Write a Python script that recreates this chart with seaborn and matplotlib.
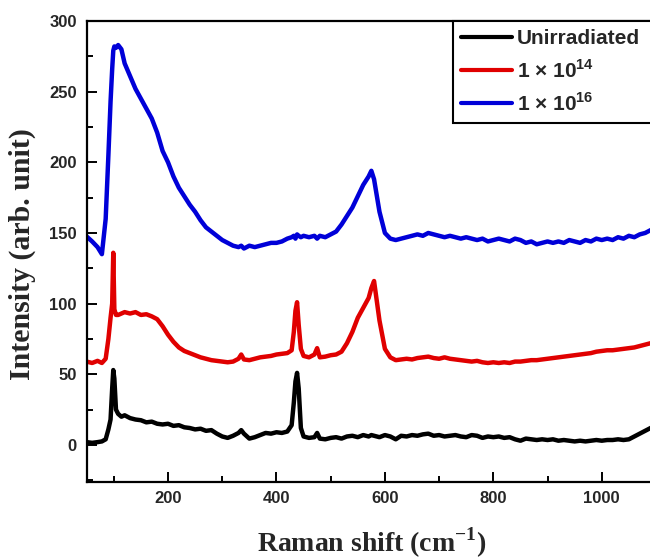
import numpy as np
import pandas as pd
import matplotlib
matplotlib.use("Agg")
import matplotlib.pyplot as plt
from matplotlib.ticker import MultipleLocator
import seaborn as sns

# ---------------- data ----------------
shift = [
    50, 60, 70, 78, 85, 90, 94, 97, 99, 101,
    104, 108, 114, 120, 130, 140, 150, 160, 170, 180,
    190, 200, 210, 220, 230, 240, 250, 260, 270, 280,
    290, 300, 310, 320, 330, 335, 340, 350, 360, 370,
    380, 390, 400, 410, 420, 428, 432, 435, 438, 441,
    445, 450, 460, 470, 475, 480, 490, 500, 510, 520,
    530, 540, 550, 560, 570, 575, 580, 590, 600, 610,
    620, 630, 640, 650, 660, 670, 680, 690, 700, 710,
    720, 730, 740, 750, 760, 770, 780, 790, 800, 810,
    820, 830, 840, 850, 860, 870, 880, 890, 900, 910,
    920, 930, 940, 950, 960, 970, 980, 990, 1000, 1010,
    1020, 1030, 1040, 1050, 1060, 1070, 1080, 1090, 1100,
]

unirradiated = [
    2, 1.5, 2, 2.5, 4, 11, 18, 40, 53, 47,
    25, 22, 20, 21, 19, 18, 17.5, 16, 16.5, 15,
    14.5, 15, 13.5, 14, 12.5, 12, 11, 11.5, 10, 10.5,
    8, 6, 5, 6.5, 8.5, 10.5, 8, 4.5, 5.5, 7,
    8.5, 8, 9, 8.5, 9.5, 14, 30, 45, 51, 40,
    12, 6, 5, 5.5, 8.5, 4.5, 4, 5, 5.5, 4.5,
    6, 6.5, 5.5, 7, 6, 7, 6.5, 5.5, 7, 6,
    4, 6.5, 6, 7, 6.5, 7.5, 8, 6.5, 7, 6,
    6.5, 7, 6, 5.5, 7, 6.5, 5, 6, 5.5, 6,
    5, 5.5, 4, 3, 4.5, 4, 3.5, 4, 3.5, 4,
    3, 3.5, 3, 2.5, 3, 2.5, 3, 3.5, 3, 3.5,
    3.5, 4, 3.5, 4, 6, 8, 10, 12, 14,
]

dose_1e14 = [
    59, 58, 59.5, 58, 61, 75, 90, 100, 136, 96,
    92, 92, 93, 94, 93, 94, 92, 92.5, 91, 89,
    84, 78, 73, 69, 66.5, 65, 63.5, 62, 61, 60,
    59.5, 59, 58.5, 59, 61, 64, 60.5, 60, 61, 62,
    62.5, 63, 64, 64.5, 65, 67, 80, 95, 101, 85,
    68, 63, 62, 64, 68.5, 62, 62.5, 63.5, 64, 66,
    72, 80, 90, 97, 104, 111, 116, 88, 68, 62,
    60, 60.5, 61, 60.5, 61.5, 62, 62.5, 61.5, 61, 62,
    61, 60.5, 60, 59.5, 59, 59.5, 58.5, 58, 58.5, 58,
    58.5, 58, 59, 59, 59.5, 60, 60, 60.5, 61, 61.5,
    62, 62.5, 63, 63.5, 64, 64.5, 65, 66, 66.5, 67,
    67, 67.5, 68, 68.5, 69, 70, 71, 72, 73,
]

dose_1e16 = [
    147.5, 144, 140, 135, 160, 205, 243, 266, 279, 282,
    281, 283, 280, 270, 261, 252, 245, 238, 231, 221,
    208, 200, 190, 182, 176, 170, 165, 159, 154, 151,
    148, 145, 143, 141, 140, 141, 139, 141, 140, 141,
    142, 143, 143, 144, 146, 147, 148, 146, 149, 148,
    147, 148, 147, 148, 146, 148, 147, 149, 151, 156,
    162, 168, 176, 184, 190, 194, 188, 165, 150, 146,
    145, 146, 147, 148, 149, 148, 150, 149, 148, 147,
    148, 147, 146, 147, 146, 145, 146, 144, 145, 146,
    145, 144, 146, 145, 143, 144, 142, 143, 144, 143,
    144, 143, 145, 144, 143, 145, 144, 146, 145, 146,
    145, 147, 146, 148, 147, 149, 150, 152, 153,
]

series_names = ["Unirradiated", "1 × 10$^{\\mathbf{14}}$", "1 × 10$^{\\mathbf{16}}$"]
series_colors = ["#000000", "#e00000", "#0000d8"]
x_ticks = [200, 400, 600, 800, 1000]
y_ticks = [0, 50, 100, 150, 200, 250, 300]

# ---------------- style ----------------
sns.set_style("ticks")
plt.rcParams["font.family"] = ["Liberation Sans", "DejaVu Sans"]
plt.rcParams["mathtext.fontset"] = "custom"
plt.rcParams["mathtext.rm"] = "Liberation Serif:bold"
plt.rcParams["mathtext.bf"] = "Liberation Sans:bold"

df = pd.concat([
    pd.DataFrame({"shift": shift, "intensity": vals, "sample": name})
    for name, vals in zip(series_names, [unirradiated, dose_1e14, dose_1e16])
], ignore_index=True)

fig = plt.figure(figsize=(6.5, 5.6), dpi=100)
ax = fig.add_axes([86.7 / 650, 1 - 481.7 / 560, (656 - 86.7) / 650, (481.7 - 21) / 560])

sns.lineplot(data=df, x="shift", y="intensity", hue="sample",
             palette=dict(zip(series_names, series_colors)),
             estimator=None, sort=False, linewidth=3.2, ax=ax, legend=True)

ax.set_xlim(50, 1100)
ax.set_ylim(-26, 300)
ax.set_xticks(x_ticks)
ax.set_yticks(y_ticks)
ax.xaxis.set_minor_locator(MultipleLocator(100))
ax.yaxis.set_minor_locator(MultipleLocator(25))
ax.tick_params(axis="both", which="major", direction="in", length=7, width=1.4,
               labelsize=12, pad=7, color="black")
ax.tick_params(axis="both", which="minor", direction="in", length=4.2, width=1.4, color="black")
for lab in ax.get_xticklabels() + ax.get_yticklabels():
    lab.set_fontweight("bold")
for sp in ax.spines.values():
    sp.set_linewidth(1.6)
    sp.set_color("black")

ax.set_xlabel("")
ax.set_ylabel("")
fig.text(372 / 650, 1 - 552 / 560, "Raman shift (cm$^{\\mathrm{-1}}$)",
         ha="center", va="baseline", fontsize=20, fontweight="bold",
         family="Liberation Serif")
fig.text(22 / 650, 1 - 254 / 560, "Intensity (arb. unit)", rotation=90,
         ha="center", va="center", fontsize=21.5, fontweight="bold",
         family="Liberation Serif")

handles, labels = ax.get_legend_handles_labels()
leg = ax.legend(handles, labels, loc="upper left", bbox_to_anchor=(0.643, 0.0, 0.357, 1.0),
                mode="expand", borderaxespad=0, frameon=True, fancybox=False, framealpha=1,
                edgecolor="black", prop={"weight": "bold", "size": 15},
                handlelength=2.45, handletextpad=0.22, borderpad=0.4,
                labelspacing=0.5)
leg.get_frame().set_linewidth(1.5)
for ln in leg.get_lines():
    ln.set_linewidth(3)

fig.savefig("out.png", dpi=100)
